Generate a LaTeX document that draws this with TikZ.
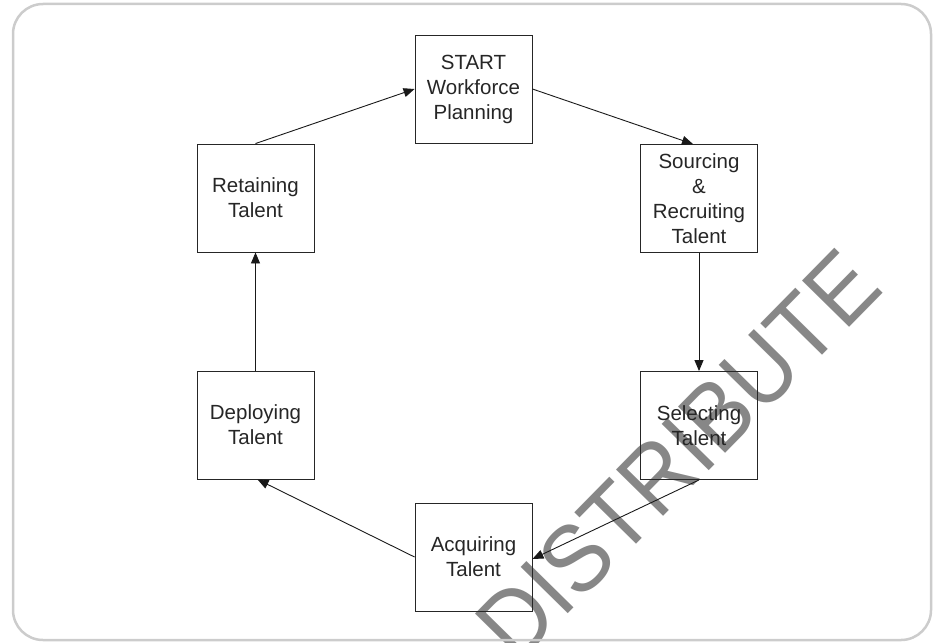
\documentclass[tikz,border=0pt]{standalone}
\usepackage{fontspec}
\setmainfont{Liberation Sans}
\usetikzlibrary{arrows.meta}
\begin{document}
\begin{tikzpicture}[x=1pt,y=-1pt,
  stage/.style={draw=black!85, line width=0.9pt, minimum width=117pt, minimum height=108pt,
    inner sep=0pt, align=center, font=\fontsize{20.5}{25}\selectfont, text=black!85},
  flow/.style={draw=black!90, line width=0.9pt, -{Triangle[length=11pt,width=9pt]}},
  wmark/.style={rotate=45.5, xscale=0.92, text=black!47, font=\fontsize{96}{96}\selectfont, inner sep=0pt}]
\useasboundingbox (0,0) rectangle (933,642);
\begin{scope}
\clip (0,0) rectangle (933,642);
\node[wmark] (wm) at (678,455) {DISTRIBUTE};
\end{scope}
\draw[black!20, line width=2.5pt, rounded corners=30pt] (13,4) rectangle (931,640);
\node[stage] (start) at (473.5,89) {START\\Workforce\\Planning};
\node[stage] (src) at (699,198.5) {Sourcing\\\&\\Recruiting\\Talent};
\node[stage] (sel) at (699,425.5) {Selecting\\Talent};
\node[stage] (acq) at (473.5,557) {Acquiring\\Talent};
\node[stage] (dep) at (255.5,425) {Deploying\\Talent};
\node[stage] (ret) at (255.5,198) {Retaining\\Talent};
\draw[flow] (ret.north) -- (start.west);
\draw[flow] (start.east) -- ([xshift=-6pt]src.north);
\draw[flow] (src.south) -- (sel.north);
\draw[flow] (sel.south) -- ([yshift=-2pt]acq.east);
\draw[flow] (acq.west) -- ([xshift=2pt]dep.south);
\draw[flow] (dep.north) -- (ret.south);
\end{tikzpicture}
\end{document}
